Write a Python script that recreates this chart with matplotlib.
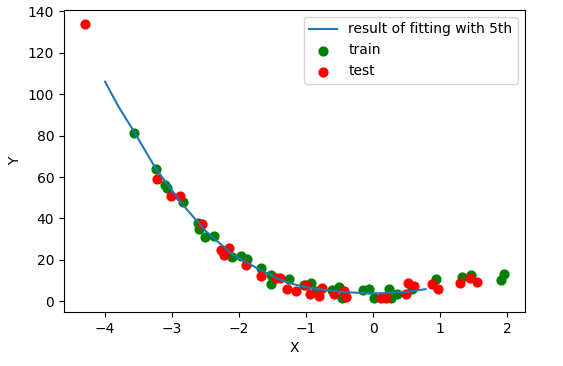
import matplotlib
matplotlib.use("Agg")
import matplotlib.pyplot as plt

# fitted curve
fit_x = [-4.0, -3.8, -3.56, -3.25, -2.86, -2.5, -2.11, -1.71, -1.41, -1.2, -1.0, -0.7, -0.4, -0.1, 0.1, 0.5, 0.78]
fit_y = [106, 94, 81.5, 64.4, 47.3, 34, 22.9, 15.6, 10.7, 8.4, 6.8, 5.4, 4.4, 4.0, 3.9, 4.6, 5.9]

train_x = [-3.57, -3.24, -3.10, -3.08, -2.84, -2.62, -2.60, -2.51, -2.37, -2.10, -1.97, -1.89,
           -1.68, -1.52, -1.53, -1.26, -1.03, -0.93, -0.85, -0.61, -0.51, -0.46, -0.16, -0.06,
           0.01, 0.24, 0.27, 0.36, 0.58, 0.94, 1.32, 1.45, 1.90, 1.95]
train_y = [81.5, 64, 56.3, 54.6, 47.8, 37.8, 35, 30.9, 31.7, 21.2, 22, 20.5,
           16, 12.5, 8.3, 10.7, 8, 8.8, 4.9, 5.4, 6.8, 1.5, 5.4, 5.9,
           1.5, 5.9, 1.5, 3.4, 5.9, 10.7, 11.7, 12.7, 10.2, 13.2]

test_x = [-4.30, -3.22, -3.01, -2.88, -2.55, -2.27, -2.15, -2.22, -1.90, -1.67, -1.45, -1.39,
          -1.28, -1.15, -1.00, -0.94, -0.81, -0.76, -0.58, -0.43, -0.40, 0.12, 0.19, 0.49,
          0.52, 0.60, 0.88, 0.97, 1.29, 1.44, 1.54]
test_y = [134, 59.2, 51, 50.7, 37.2, 24.8, 25.9, 22.5, 17.5, 12.2, 11.5, 11.2,
          6.1, 4.9, 8, 3.7, 2.4, 6.3, 3.4, 4.9, 2.0, 1.5, 1.5, 3.4,
          8.8, 7.3, 8.3, 5.9, 8.8, 11.2, 9.3]

plt.rcParams['font.size'] = 10
plt.rcParams['font.family'] = ['DejaVu Sans']

fig = plt.figure(figsize=(5.63, 3.66), dpi=100)
ax = fig.add_axes([64 / 563, 1 - 312 / 366, 461 / 563, 302 / 366])

ax.plot(fit_x, fit_y, color='#1f77b4', linewidth=1.5, label='result of fitting with 5th')
ax.scatter(train_x, train_y, color='green', s=40, label='train')
ax.scatter(test_x, test_y, color='red', s=40, label='test')

ax.set_xlabel('X')
ax.set_ylabel('Y')
ax.set_yticks([0, 20, 40, 60, 80, 100, 120, 140])
ax.set_xticks([-4, -3, -2, -1, 0, 1, 2])
ax.legend(loc='upper right')

fig.savefig('out.png', dpi=100)
